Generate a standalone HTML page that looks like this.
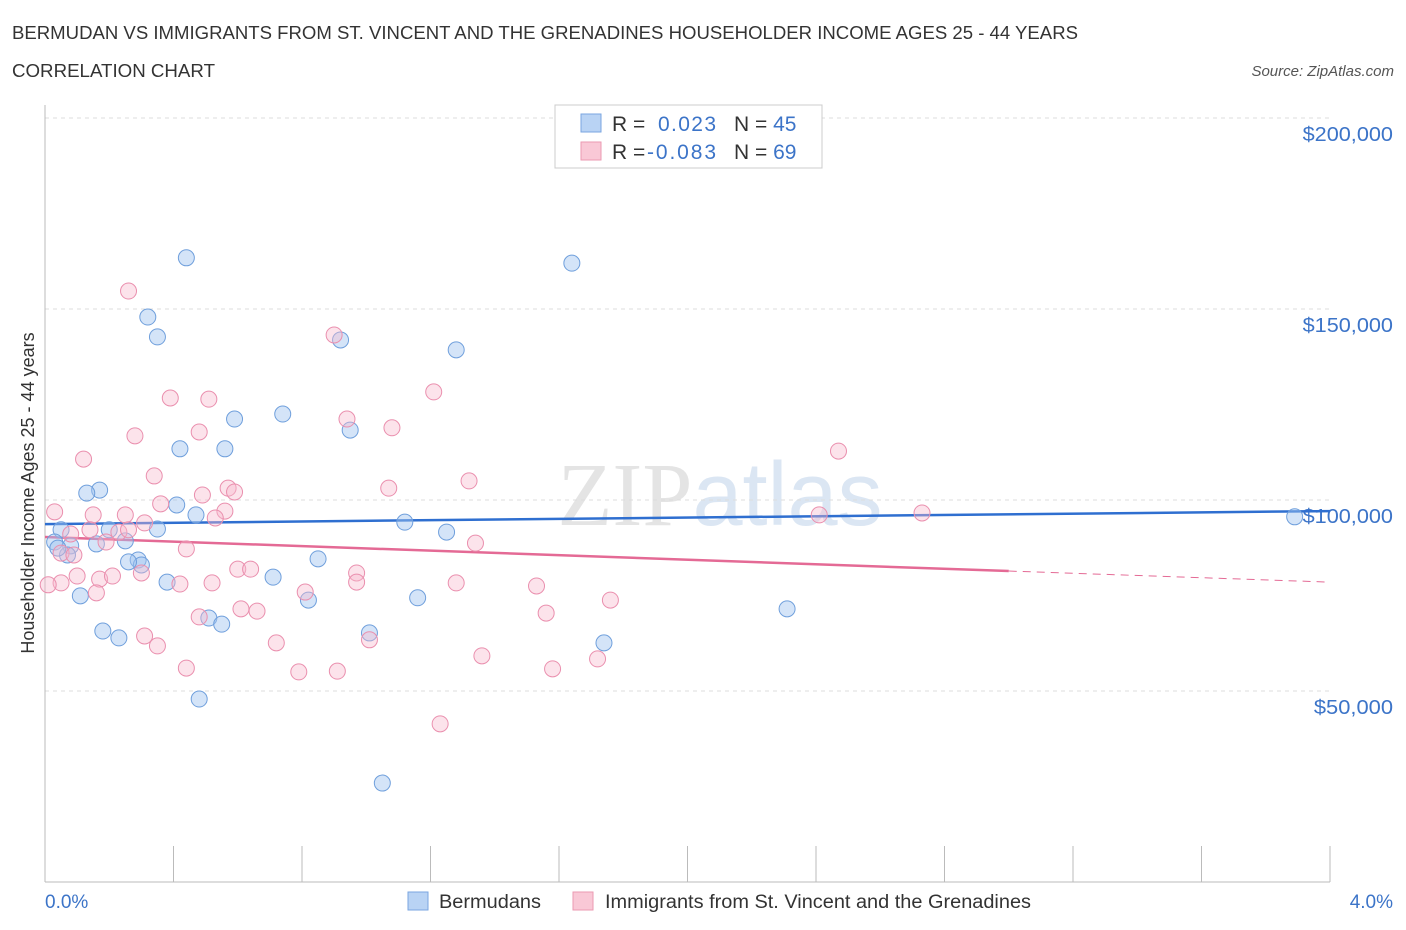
<!DOCTYPE html>
<html><head><meta charset="utf-8"><style>
body{margin:0;background:#fff;font-family:"Liberation Sans",sans-serif;}
svg{display:block}
</style></head><body>
<svg id="chart" width="1406" height="930">
<text x="12" y="39" font-size="18" fill="#333" textLength="1066" lengthAdjust="spacingAndGlyphs">BERMUDAN VS IMMIGRANTS FROM ST. VINCENT AND THE GRENADINES HOUSEHOLDER INCOME AGES 25 - 44 YEARS</text>
<text x="12" y="77" font-size="18" fill="#333" textLength="203" lengthAdjust="spacingAndGlyphs">CORRELATION CHART</text>
<text x="1394" y="76" font-size="15" fill="#555" font-style="italic" text-anchor="end">Source: ZipAtlas.com</text>
<text x="720" y="525" font-size="90" fill="#e4e4e4" text-anchor="middle" font-family="Liberation Serif,serif">ZIP<tspan fill="#dbe6f3" font-family="Liberation Sans,sans-serif">atlas</tspan></text>
<g id="grid"></g><g id="axes"></g><g id="trends"></g><g id="points"></g>
<text transform="translate(34,493) rotate(-90)" font-size="18" fill="#333" text-anchor="middle">Householder Income Ages 25 - 44 years</text>
<g>
<rect x="555" y="105" width="267" height="63" fill="#fff" stroke="#ccc"/>
<rect x="581" y="114" width="20" height="18" fill="#b9d3f4" stroke="#7aa6e0"/>
<rect x="581" y="142" width="20" height="18" fill="#f9c8d6" stroke="#eb9ab2"/>
<text x="612" y="131" font-size="21" fill="#333">R =  <tspan fill="#3c74c8" x="658" textLength="58">0.023</tspan><tspan x="734" fill="#333">N = </tspan><tspan fill="#3c74c8">45</tspan></text>
<text x="612" y="159" font-size="21" fill="#333">R = <tspan fill="#3c74c8" x="647" textLength="69">-0.083</tspan><tspan x="734" fill="#333">N = </tspan><tspan fill="#3c74c8">69</tspan></text>
</g>
<g>
<rect x="408" y="892" width="20" height="18" fill="#b9d3f4" stroke="#7aa6e0"/>
<text x="439" y="908" font-size="19" fill="#333" textLength="102" lengthAdjust="spacingAndGlyphs">Bermudans</text>
<rect x="573" y="892" width="20" height="18" fill="#f9c8d6" stroke="#eb9ab2"/>
<text x="605" y="908" font-size="19" fill="#333" textLength="426" lengthAdjust="spacingAndGlyphs">Immigrants from St. Vincent and the Grenadines</text>
</g>
</svg>
<script>
const yTicks=[50000,100000,150000,200000];
const yTickLabels=["$50,000","$100,000","$150,000","$200,000"];
const xTickLabels=["0.0%","4.0%"];
const blueX=[0.44,1.64,0.32,0.35,0.92,1.28,0.74,0.59,0.95,0.42,0.56,0.17,0.13,0.41,0.47,1.12,1.25,0.05,0.35,0.20,0.25,0.16,0.08,0.03,0.07,0.29,0.30,0.26,0.85,0.38,0.71,0.11,0.82,1.16,2.31,0.51,0.55,0.18,0.23,1.01,1.74,0.48,1.05,3.89,0.04];
const blueY=[163400,162000,147900,142700,141900,139300,122500,121200,118300,113400,113400,102600,101800,98700,96100,94200,91600,92200,92400,92200,89300,88500,88000,89000,85600,84300,83000,83800,84600,78500,79800,74900,73800,74400,71500,69100,67500,65700,63900,65200,62600,47900,25900,95600,87400];
const pinkX=[0.26,0.90,1.21,0.39,0.51,0.94,1.08,0.28,0.48,0.12,2.47,0.34,1.32,1.07,0.57,0.59,0.49,0.36,0.03,0.15,0.25,0.56,0.53,0.31,2.41,2.73,0.14,0.08,0.23,0.26,0.19,1.34,0.44,0.05,0.09,0.10,0.17,0.21,0.30,0.60,0.64,0.97,0.97,0.05,0.01,0.42,0.52,1.28,1.53,0.16,0.81,1.76,0.61,0.66,1.56,0.48,0.31,0.35,1.01,0.72,1.36,1.72,0.44,0.79,0.91,1.58,1.23];
const pinkY=[154700,143200,128300,126700,126400,121200,118900,116800,117800,110700,112800,106300,105000,103100,103100,102100,101300,99000,96900,96100,96100,97100,95300,94000,96100,96600,92200,91100,91600,92200,89000,88700,87200,86100,85600,80100,79300,80100,80900,81900,81900,80900,78500,78300,77800,78000,78300,78300,77500,75700,75900,73800,71500,70900,70400,69400,64400,61800,63400,62600,59200,58400,56000,55000,55200,55800,41400];
const blueTrend=[93700,97100];
const pinkTrend=[90300,81400,78500];
const pinkSolidEnd=3.0;
const NS="http://www.w3.org/2000/svg";
const X=v=>45+v/4*1285, Y=v=>882-v/50000*191;
function mk(t,a,p){const e=document.createElementNS(NS,t);for(const k in a)e.setAttribute(k,a[k]);document.getElementById(p).appendChild(e);return e;}
yTicks.forEach((t,i)=>{
 const l=mk('line',{x1:45,x2:1330,y1:Y(t),y2:Y(t),stroke:'#ddd','stroke-dasharray':'4,4'},'grid');
 
 
 const tx=mk('text',{x:1393,y:Y(t)+23,'font-size':20,fill:'#3c74c8','text-anchor':'end',textLength:yTickLabels[i].length*11.3,lengthAdjust:'spacingAndGlyphs'},'axes');
 tx.textContent=yTickLabels[i];
 
 
});
const ax=mk('line',{x1:45,x2:45,y1:105,y2:882,stroke:'#bbb'},'axes');


const bx=mk('line',{x1:45,x2:1330,y1:882,y2:882,stroke:'#bbb'},'axes');


for(let i=0;i<=10;i++){const t=mk('line',{x1:X(i*0.4),x2:X(i*0.4),y1:846,y2:882,stroke:'#bbb'},'axes');
 
 }
[[0,'start',45],[4,'end',1393]].forEach((d,i)=>{const t=mk('text',{x:d[2],y:908,'font-size':19,fill:'#3c74c8','text-anchor':d[1]},'axes');t.textContent=xTickLabels[i];
 
 });
blueX.forEach((x,i)=>{const c=mk('circle',{cx:X(x),cy:Y(blueY[i]),r:8,fill:'rgba(160,195,240,0.45)',stroke:'#6f9fdc','stroke-width':1},'points');
 
 });
pinkX.forEach((x,i)=>{const c=mk('circle',{cx:X(x),cy:Y(pinkY[i]),r:8,fill:'rgba(247,185,205,0.4)',stroke:'#ea8fae','stroke-width':1},'points');
 
 });
const bl=mk('line',{x1:X(0),y1:Y(blueTrend[0]),x2:X(4),y2:Y(blueTrend[1]),stroke:'#2f6fd0','stroke-width':2.5},'trends');


const pl=mk('line',{x1:X(0),y1:Y(pinkTrend[0]),x2:X(pinkSolidEnd),y2:Y(pinkTrend[1]),stroke:'#e46a95','stroke-width':2.5},'trends');


const pd=mk('line',{x1:X(pinkSolidEnd),y1:Y(pinkTrend[1]),x2:X(4),y2:Y(pinkTrend[2]),stroke:'#e46a95','stroke-width':1,'stroke-dasharray':'8,6'},'trends');


</script>
</body></html>
